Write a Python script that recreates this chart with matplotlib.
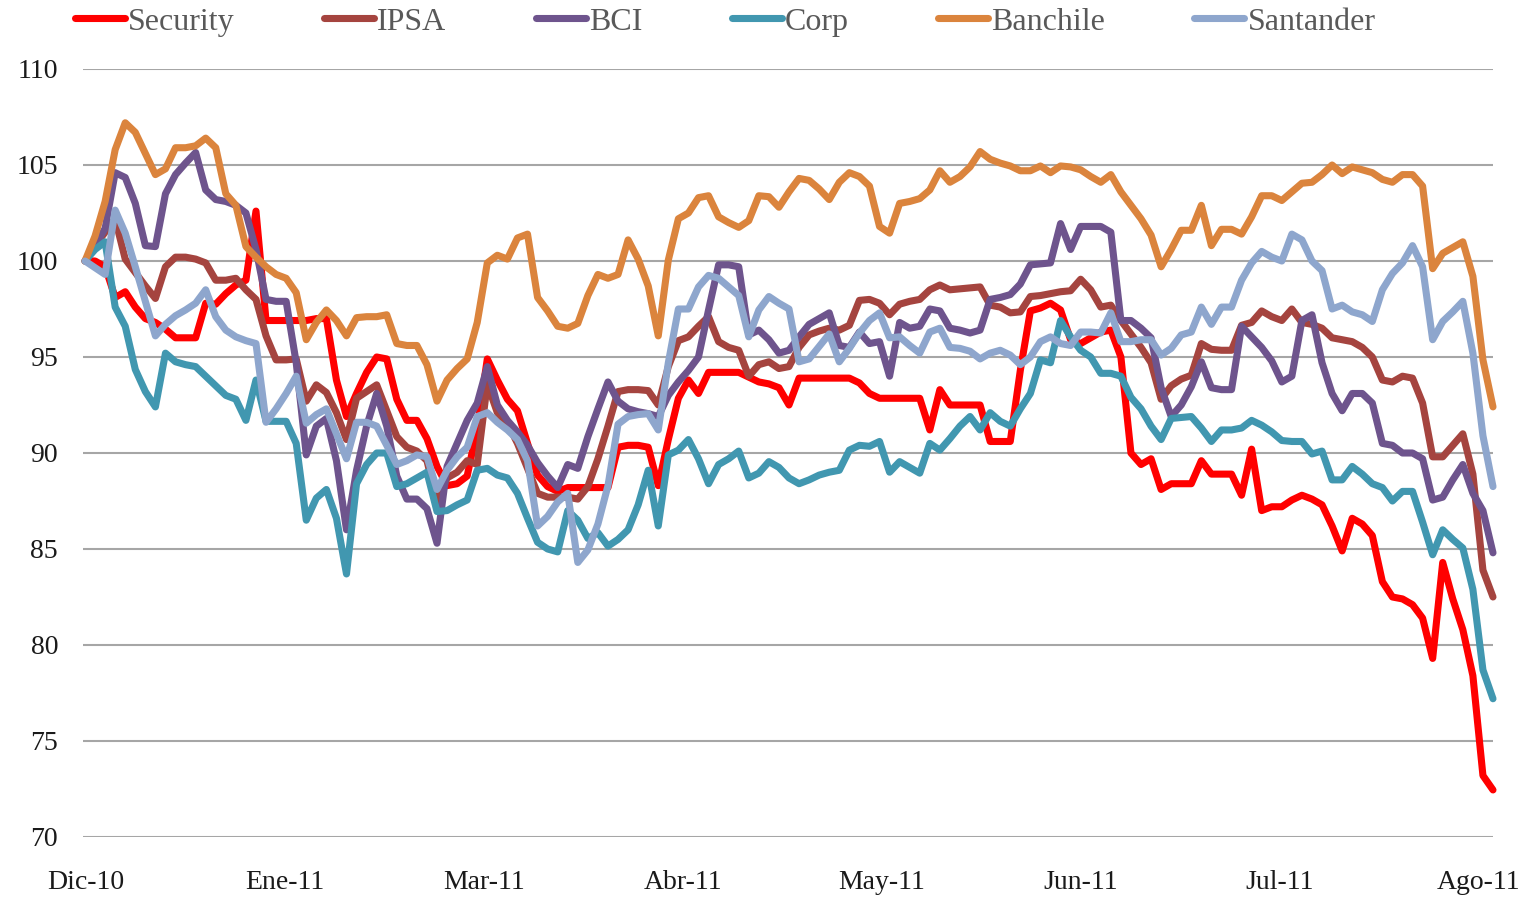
import numpy as np
import matplotlib
matplotlib.use('Agg')
import matplotlib.pyplot as plt

# trading-day index (Dec-2010 .. Aug-2011)
days = np.arange(141)

month_labels = ['Dic-10', 'Ene-11', 'Mar-11', 'Abr-11', 'May-11', 'Jun-11', 'Jul-11', 'Ago-11']
label_step = 19.78  # trading days between labels

security = [
    100.0, 100.0, 99.7, 98.1, 98.4, 97.6, 97.0, 96.8, 96.45, 96.0,
    96.0, 96.0, 97.8, 97.75, 98.3, 98.75, 99.0, 102.6, 96.9, 96.9,
    96.9, 96.9, 96.9, 97.0, 97.0, 93.8, 91.9, 93.1, 94.2, 95.0,
    94.9, 92.8, 91.7, 91.7, 90.75, 89.3, 88.3, 88.4, 88.8, 91.3,
    94.9, 93.8, 92.8, 92.2, 90.5, 88.85, 88.25, 88.0, 88.2, 88.2,
    88.2, 88.2, 88.2, 90.3, 90.4, 90.4, 90.3, 88.3, 90.7, 92.85,
    93.8, 93.1, 94.2, 94.2, 94.2, 94.2, 93.95, 93.7, 93.6, 93.4,
    92.5, 93.9, 93.9, 93.9, 93.9, 93.9, 93.9, 93.65, 93.1, 92.85,
    92.85, 92.85, 92.85, 92.85, 91.2, 93.3, 92.5, 92.5, 92.5, 92.5,
    90.6, 90.6, 90.6, 94.3, 97.4, 97.55, 97.8, 97.45, 95.9, 95.7,
    96.0, 96.3, 96.4, 95.0, 90.0, 89.4, 89.7, 88.1, 88.4, 88.4,
    88.4, 89.6, 88.9, 88.9, 88.9, 87.8, 90.2, 87.0, 87.2, 87.2,
    87.55, 87.8, 87.6, 87.3, 86.2, 84.9, 86.6, 86.3, 85.7, 83.3,
    82.5, 82.4, 82.1, 81.4, 79.3, 84.3, 82.4, 80.8, 78.4, 73.2,
    72.45]

ipsa = [
    100.0, 100.8, 101.5, 102.2, 100.1, 99.4, 98.7, 98.05, 99.7, 100.2,
    100.2, 100.1, 99.9, 99.0, 99.0, 99.1, 98.5, 98.0, 96.1, 94.85,
    94.85, 94.9, 92.7, 93.55, 93.15, 92.1, 90.7, 92.85, 93.2, 93.55,
    92.2, 90.85, 90.3, 90.1, 89.6, 87.4, 88.7, 89.0, 89.6, 89.4,
    93.6, 92.1, 91.55, 90.5, 89.2, 87.9, 87.7, 87.7, 87.7, 87.6,
    88.25, 89.7, 91.4, 93.2, 93.3, 93.3, 93.25, 92.5, 94.5, 95.85,
    96.05, 96.6, 97.1, 95.8, 95.5, 95.35, 94.0, 94.6, 94.75, 94.4,
    94.5, 95.5, 96.15, 96.35, 96.5, 96.4, 96.65, 97.95, 98.0, 97.8,
    97.2, 97.75, 97.9, 98.0, 98.5, 98.75, 98.5, 98.55, 98.6, 98.65,
    97.7, 97.6, 97.3, 97.35, 98.15, 98.2, 98.3, 98.4, 98.45, 99.05,
    98.5, 97.6, 97.7, 96.9, 96.2, 95.5, 94.7, 92.8, 93.5, 93.85,
    94.05, 95.7, 95.4, 95.35, 95.35, 96.65, 96.8, 97.4, 97.1, 96.9,
    97.5, 96.8, 96.7, 96.5, 96.0, 95.9, 95.8, 95.5, 95.0, 93.8,
    93.7, 94.0, 93.9, 92.6, 89.8, 89.8, 90.4, 91.0, 88.9, 83.9,
    82.5]

bci = [
    100.0, 100.8, 101.7, 104.6, 104.35, 103.0, 100.8, 100.75, 103.5, 104.5,
    105.1, 105.65, 103.7, 103.2, 103.1, 102.9, 102.5, 100.6, 98.0, 97.9,
    97.9, 94.7, 89.9, 91.4, 91.8, 89.6, 86.0, 89.1, 91.4, 93.1,
    91.4, 88.8, 87.6, 87.6, 87.1, 85.3, 89.3, 90.5, 91.7, 92.6,
    94.5, 92.5, 91.7, 91.1, 90.4, 89.5, 88.8, 88.2, 89.4, 89.2,
    90.85, 92.3, 93.7, 92.7, 92.3, 92.15, 92.05, 91.9, 93.0, 93.7,
    94.3, 95.0, 97.45, 99.8, 99.8, 99.7, 96.15, 96.4, 95.9, 95.2,
    95.35, 96.05, 96.7, 97.0, 97.3, 95.6, 95.5, 96.3, 95.7, 95.8,
    94.0, 96.8, 96.5, 96.6, 97.5, 97.4, 96.5, 96.4, 96.25, 96.4,
    98.0, 98.1, 98.25, 98.8, 99.8, 99.85, 99.9, 101.95, 100.6, 101.8,
    101.8, 101.8, 101.5, 96.9, 96.9, 96.5, 96.0, 93.4, 91.9, 92.5,
    93.45, 94.75, 93.4, 93.3, 93.3, 96.6, 96.05, 95.5, 94.8, 93.7,
    94.0, 96.9, 97.2, 94.7, 93.1, 92.2, 93.1, 93.1, 92.6, 90.5,
    90.4, 90.0, 90.0, 89.7, 87.55, 87.7, 88.6, 89.4, 87.9, 87.0,
    84.8]

corp = [
    100.0, 100.6, 101.0, 97.6, 96.6, 94.35, 93.2, 92.4, 95.2, 94.75,
    94.6, 94.5, 94.0, 93.5, 93.0, 92.8, 91.7, 93.8, 91.65, 91.65,
    91.65, 90.5, 86.5, 87.65, 88.1, 86.6, 83.7, 88.4, 89.4, 90.0,
    90.0, 88.25, 88.4, 88.7, 89.0, 86.95, 87.0, 87.3, 87.55, 89.1,
    89.2, 88.85, 88.7, 87.9, 86.6, 85.35, 85.0, 84.85, 87.0, 86.5,
    85.55, 85.85, 85.15, 85.5, 86.0, 87.3, 89.1, 86.2, 89.9, 90.15,
    90.7, 89.7, 88.4, 89.4, 89.7, 90.1, 88.7, 88.95, 89.55, 89.25,
    88.7, 88.4, 88.6, 88.85, 89.0, 89.1, 90.15, 90.4, 90.35, 90.6,
    89.0, 89.55, 89.25, 88.95, 90.5, 90.15, 90.75, 91.4, 91.9, 91.2,
    92.1, 91.65, 91.4, 92.3, 93.1, 94.85, 94.7, 96.9, 96.05, 95.35,
    95.0, 94.15, 94.15, 94.0, 92.9, 92.3, 91.4, 90.7, 91.8, 91.85,
    91.9, 91.3, 90.6, 91.2, 91.2, 91.3, 91.7, 91.45, 91.1, 90.65,
    90.6, 90.6, 89.95, 90.1, 88.6, 88.6, 89.3, 88.9, 88.4, 88.2,
    87.5, 88.0, 88.0, 86.4, 84.7, 86.0, 85.5, 85.05, 82.9, 78.7,
    77.2]

banchile = [
    100.0, 101.3, 103.1, 105.8, 107.2, 106.7, 105.6, 104.5, 104.8, 105.9,
    105.9, 106.0, 106.4, 105.9, 103.5, 102.9, 100.75, 100.2, 99.7, 99.3,
    99.1, 98.35, 95.9, 96.8, 97.45, 96.9, 96.1, 97.05, 97.1, 97.1,
    97.2, 95.7, 95.6, 95.6, 94.6, 92.7, 93.8, 94.4, 94.9, 96.8,
    99.9, 100.3, 100.1, 101.2, 101.4, 98.1, 97.4, 96.6, 96.5, 96.75,
    98.2, 99.3, 99.1, 99.3, 101.1, 100.1, 98.7, 96.1, 100.05, 102.2,
    102.5, 103.3, 103.4, 102.3, 102.0, 101.75, 102.1, 103.4, 103.35, 102.8,
    103.6, 104.3, 104.2, 103.75, 103.2, 104.1, 104.6, 104.4, 103.9, 101.8,
    101.45, 103.0, 103.1, 103.25, 103.7, 104.7, 104.1, 104.4, 104.9, 105.7,
    105.3, 105.1, 104.95, 104.7, 104.7, 104.95, 104.6, 104.95, 104.9, 104.75,
    104.4, 104.1, 104.5, 103.6, 102.9, 102.2, 101.35, 99.7, 100.6, 101.6,
    101.6, 102.9, 100.8, 101.65, 101.65, 101.4, 102.3, 103.4, 103.4, 103.15,
    103.6, 104.05, 104.1, 104.5, 105.0, 104.55, 104.9, 104.75, 104.6, 104.25,
    104.1, 104.5, 104.5, 103.9, 99.6, 100.4, 100.7, 101.0, 99.2, 94.85,
    92.4]

santander = [
    100.0, 99.65, 99.3, 102.65, 101.45, 99.7, 97.9, 96.1, 96.7, 97.15,
    97.45, 97.8, 98.5, 97.1, 96.4, 96.05, 95.85, 95.7, 91.6, 92.3,
    93.1, 94.0, 91.55, 92.0, 92.3, 91.0, 89.7, 91.6, 91.6, 91.4,
    90.4, 89.4, 89.6, 89.9, 89.8, 88.1, 89.1, 89.8, 90.3, 91.9,
    92.1, 91.6, 91.2, 90.7, 89.6, 86.2, 86.7, 87.45, 87.9, 84.3,
    84.95, 86.3, 88.3, 91.5, 91.9, 92.0, 92.05, 91.2, 94.7, 97.5,
    97.5, 98.65, 99.25, 99.1, 98.65, 98.2, 96.05, 97.45, 98.15, 97.8,
    97.5, 94.75, 94.9, 95.55, 96.2, 94.75, 95.45, 96.25, 96.9, 97.3,
    96.0, 96.05, 95.6, 95.2, 96.3, 96.5, 95.5, 95.45, 95.3, 94.9,
    95.2, 95.35, 95.1, 94.6, 95.0, 95.8, 96.05, 95.7, 95.6, 96.3,
    96.3, 96.25, 97.3, 95.8, 95.8, 95.9, 95.9, 95.1, 95.45, 96.15,
    96.3, 97.6, 96.7, 97.6, 97.6, 99.0, 99.9, 100.5, 100.2, 100.0,
    101.4, 101.1, 100.0, 99.5, 97.5, 97.7, 97.35, 97.2, 96.85, 98.5,
    99.35, 99.9, 100.8, 99.7, 95.9, 96.85, 97.35, 97.9, 95.2, 90.9,
    88.25]

series_names = ['Security', 'IPSA', 'BCI', 'Corp', 'Banchile', 'Santander']
series_values = [security, ipsa, bci, corp, banchile, santander]
series_colors = ['#FF0000', '#A5443F', '#6E548D', '#4197B0', '#DB843D', '#8EA6CD']

serif = ['Liberation Serif', 'DejaVu Serif']

fig = plt.figure(figsize=(15.3, 8.99), dpi=100)
ax = fig.add_axes([83 / 1530, 62 / 899, 1410 / 1530, 768 / 899])

handles = []
for name, vals, col in zip(series_names, series_values, series_colors):
    ln, = ax.plot(days, vals, color=col, lw=5.1, solid_capstyle='round',
                  solid_joinstyle='round', clip_on=False, label=name)
    handles.append(ln)

ax.set_xlim(-0.2, 140)
ax.set_ylim(70, 110)
ax.set_yticks(np.arange(70, 111, 5))
ax.set_xticks(0.1 + label_step * np.arange(len(month_labels)))
ax.set_xticklabels(month_labels)
ax.yaxis.grid(True, color='#A6A6A6', lw=1.5)
ax.xaxis.grid(False)
ax.set_axisbelow(True)
for s in ax.spines.values():
    s.set_visible(False)
ax.tick_params(axis='both', length=0, labelsize=20, labelcolor='#1a1a1a')
ax.tick_params(axis='y', pad=18)
ax.tick_params(axis='x', pad=24)
for lab in ax.get_xticklabels() + ax.get_yticklabels():
    lab.set_family(serif)

leg = fig.legend(handles=handles, labels=series_names, loc='center left',
                 bbox_to_anchor=(75 / 1530, 1 - 22 / 899), ncol=6, frameon=False,
                 handlelength=1.56, handletextpad=0.1, columnspacing=2.8,
                 borderpad=0, borderaxespad=0,
                 prop={'family': serif, 'size': 23})
for t in leg.get_texts():
    t.set_color('#595959')

fig.savefig('out.png', dpi=100)
